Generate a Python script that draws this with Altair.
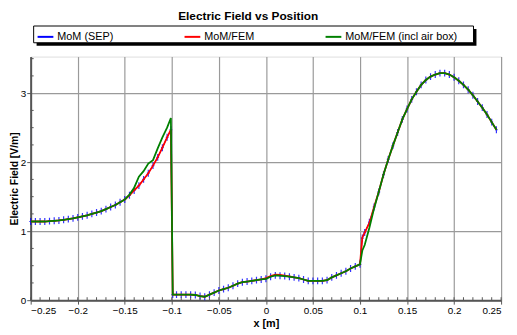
import altair as alt
import pandas as pd

# ---------------- data ----------------
x_vals = [-0.25, -0.245, -0.24, -0.235, -0.23, -0.225, -0.22, -0.215, -0.21, -0.205,
          -0.2, -0.195, -0.19, -0.185, -0.18, -0.175, -0.17, -0.165, -0.16, -0.155,
          -0.15, -0.145, -0.14, -0.135, -0.13, -0.125, -0.12, -0.115, -0.11, -0.105,
          -0.101, -0.099, -0.095, -0.09, -0.085, -0.08, -0.075, -0.07, -0.065, -0.06,
          -0.055, -0.05, -0.045, -0.04, -0.035, -0.03, -0.025, -0.02, -0.015, -0.01,
          -0.005, 0.0, 0.005, 0.01, 0.015, 0.02, 0.025, 0.03, 0.035, 0.04,
          0.045, 0.05, 0.055, 0.06, 0.065, 0.07, 0.075, 0.08, 0.085, 0.09,
          0.095, 0.1, 0.1025, 0.105, 0.11, 0.115, 0.12, 0.125, 0.13, 0.135,
          0.14, 0.145, 0.15, 0.155, 0.16, 0.165, 0.17, 0.175, 0.18, 0.185,
          0.19, 0.195, 0.2, 0.205, 0.21, 0.215, 0.22, 0.225, 0.23, 0.235,
          0.24, 0.245]

sep_vals = [1.14, 1.14, 1.14, 1.14, 1.145, 1.15, 1.155, 1.165, 1.175, 1.185,
            1.20, 1.215, 1.23, 1.25, 1.27, 1.29, 1.32, 1.35, 1.38, 1.42,
            1.46, 1.52, 1.59, 1.66, 1.75, 1.84, 1.95, 2.07, 2.21, 2.36,
            2.47, 0.08, 0.08, 0.08, 0.08, 0.08, 0.075, 0.06, 0.05, 0.08,
            0.11, 0.14, 0.16, 0.18, 0.21, 0.24, 0.26, 0.27, 0.28, 0.29,
            0.30, 0.31, 0.34, 0.36, 0.355, 0.35, 0.34, 0.33, 0.32, 0.30,
            0.28, 0.28, 0.28, 0.28, 0.29, 0.33, 0.36, 0.39, 0.42, 0.46,
            0.49, 0.52, 0.90, 0.98, 1.13, 1.35, 1.57, 1.82, 2.04, 2.24,
            2.43, 2.62, 2.77, 2.91, 3.02, 3.12, 3.19, 3.24, 3.27, 3.29,
            3.29, 3.27, 3.23, 3.18, 3.12, 3.05, 2.97, 2.88, 2.79, 2.69,
            2.58, 2.47]

fem_vals = [1.14, 1.14, 1.14, 1.14, 1.145, 1.15, 1.155, 1.165, 1.175, 1.185,
            1.20, 1.215, 1.23, 1.25, 1.27, 1.29, 1.32, 1.35, 1.38, 1.42,
            1.46, 1.52, 1.59, 1.66, 1.75, 1.84, 1.95, 2.07, 2.21, 2.36,
            2.47, 0.08, 0.08, 0.08, 0.08, 0.08, 0.075, 0.06, 0.05, 0.08,
            0.11, 0.14, 0.16, 0.18, 0.21, 0.24, 0.26, 0.27, 0.28, 0.29,
            0.30, 0.32, 0.35, 0.37, 0.365, 0.355, 0.345, 0.33, 0.32, 0.30,
            0.28, 0.28, 0.28, 0.28, 0.29, 0.33, 0.36, 0.39, 0.42, 0.46,
            0.49, 0.52, 0.91, 0.98, 1.12, 1.35, 1.57, 1.82, 2.04, 2.24,
            2.43, 2.62, 2.77, 2.91, 3.02, 3.12, 3.19, 3.24, 3.27, 3.29,
            3.29, 3.27, 3.23, 3.18, 3.12, 3.05, 2.97, 2.88, 2.79, 2.69,
            2.58, 2.47]

air_vals = [1.14, 1.14, 1.14, 1.14, 1.145, 1.15, 1.155, 1.165, 1.175, 1.185,
            1.20, 1.215, 1.23, 1.25, 1.27, 1.29, 1.32, 1.35, 1.38, 1.42,
            1.46, 1.53, 1.63, 1.79, 1.87, 1.98, 2.03, 2.20, 2.36, 2.50,
            2.64, 0.08, 0.08, 0.08, 0.08, 0.08, 0.075, 0.06, 0.05, 0.08,
            0.11, 0.14, 0.16, 0.18, 0.21, 0.24, 0.26, 0.27, 0.28, 0.29,
            0.30, 0.31, 0.34, 0.36, 0.355, 0.35, 0.34, 0.33, 0.32, 0.30,
            0.28, 0.28, 0.28, 0.28, 0.29, 0.33, 0.36, 0.39, 0.42, 0.46,
            0.49, 0.52, 0.72, 0.80, 1.05, 1.33, 1.57, 1.82, 2.04, 2.24,
            2.43, 2.62, 2.77, 2.91, 3.02, 3.12, 3.19, 3.24, 3.27, 3.29,
            3.29, 3.27, 3.23, 3.18, 3.12, 3.05, 2.97, 2.88, 2.79, 2.69,
            2.58, 2.47]

series_names = ["MoM (SEP)", "MoM/FEM", "MoM/FEM (incl air box)"]
series_colors = ["#0000ff", "#ff0000", "#008000"]

x_ticks = [-0.25, -0.2, -0.15, -0.1, -0.05, 0, 0.05, 0.1, 0.15, 0.2, 0.25]
y_ticks = [0, 1, 2, 3]
x_minor = [round(-0.25 + 0.01 * i, 2) for i in range(51)]
y_minor = [0.25, 0.5, 0.75, 1.25, 1.5, 1.75, 2.25, 2.5, 2.75, 3.25, 3.5]

# ---------------- tables ----------------
rows = []
for name, vals in zip(series_names, [sep_vals, fem_vals, air_vals]):
    for xv, yv in zip(x_vals, vals):
        rows.append({"x": xv, "y": yv, "series": name})
df = pd.DataFrame(rows)
df_sep = df[df["series"] == series_names[0]]

FONT = "Liberation Sans"
W, H = 477, 247
xs = alt.Scale(domain=[-0.25, 0.25], nice=False, zero=False)
ys = alt.Scale(domain=[0, 3.53], nice=False, zero=False)

xaxis = alt.Axis(values=x_ticks, title="x [m]", format="~g", labelFontSize=10,
                 titleFontSize=11, titleFontWeight="bold", titlePadding=2,
                 labelPadding=2, tickSize=4, grid=True, gridColor="#9a9a9a",
                 gridWidth=1.2, domainColor="#555555", domainWidth=2,
                 tickColor="#555555", labelFont=FONT, titleFont=FONT,
                 labelColor="black", titleColor="black")
yaxis = alt.Axis(values=y_ticks, title="Electric Field [V/m]", labelFontSize=10,
                 titleFontSize=10.5, titleFontWeight="bold", titlePadding=1,
                 labelPadding=1, tickSize=4, grid=True, gridColor="#9a9a9a",
                 gridWidth=1.2, domainColor="#555555", domainWidth=2,
                 tickColor="#555555", labelFont=FONT, titleFont=FONT,
                 labelColor="black", titleColor="black")

# legend frame (shadow + white box) drawn behind the real legend
frame_df = pd.DataFrame({"k": [0]})
shadow = alt.Chart(frame_df).mark_rect(color="black").encode(
    x=alt.value(6), x2=alt.value(452), y=alt.value(-28), y2=alt.value(-11))
box = alt.Chart(frame_df).mark_rect(fill="white", stroke="black", strokeWidth=1).encode(
    x=alt.value(3), x2=alt.value(449), y=alt.value(-31), y2=alt.value(-14))

xminor_ticks = alt.Chart(pd.DataFrame({"x": x_minor})).mark_rule(
    color="#555555", strokeWidth=1).encode(
    x=alt.X("x:Q", scale=xs, axis=xaxis), y=alt.value(H), y2=alt.value(H - 3))
yminor_ticks = alt.Chart(pd.DataFrame({"y": y_minor})).mark_rule(
    color="#555555", strokeWidth=1).encode(
    y=alt.Y("y:Q", scale=ys, axis=yaxis), x=alt.value(0), x2=alt.value(3))

lines = alt.Chart(df).mark_line(clip=True).encode(
    x=alt.X("x:Q", scale=xs, axis=xaxis),
    y=alt.Y("y:Q", scale=ys, axis=yaxis),
    color=alt.Color("series:N",
                    scale=alt.Scale(domain=series_names, range=series_colors),
                    sort=series_names,
                    legend=alt.Legend(orient="none", legendX=5, legendY=-30,
                                      direction="horizontal", columns=3, title=None,
                                      symbolType="stroke", symbolStrokeWidth=2,
                                      symbolSize=256, labelFontSize=11,
                                      labelFont=FONT, labelColor="black",
                                      padding=1, columnPadding=68, labelOffset=3)),
    order=alt.Order("x:Q"),
    strokeWidth=alt.condition(alt.datum.series == series_names[0],
                              alt.value(1), alt.value(1.8)),
    detail="series:N",
)

markers = alt.Chart(df_sep).mark_point(
    shape="M0,-1L0,1M-0.4,0L0.4,0", size=49, color="#0000ff", strokeWidth=1.2,
    opacity=0.8, filled=False).encode(
    x=alt.X("x:Q", scale=xs, axis=xaxis),
    y=alt.Y("y:Q", scale=ys, axis=yaxis))

chart = alt.layer(shadow, box, markers, lines, xminor_ticks, yminor_ticks).properties(
    width=W, height=H,
    title=alt.TitleParams("Electric Field vs Position", fontSize=12,
                          fontWeight="bold", font=FONT, anchor="middle",
                          dx=-18, offset=3, color="black"),
    autosize=alt.AutoSizeParams(type="none"),
    padding={"left": 23, "top": 47, "right": 8, "bottom": 30},
).configure_view(stroke="#555555", strokeWidth=2).configure(background="white")

chart.save("out.html", embed_options={"renderer": "svg", "actions": False})
